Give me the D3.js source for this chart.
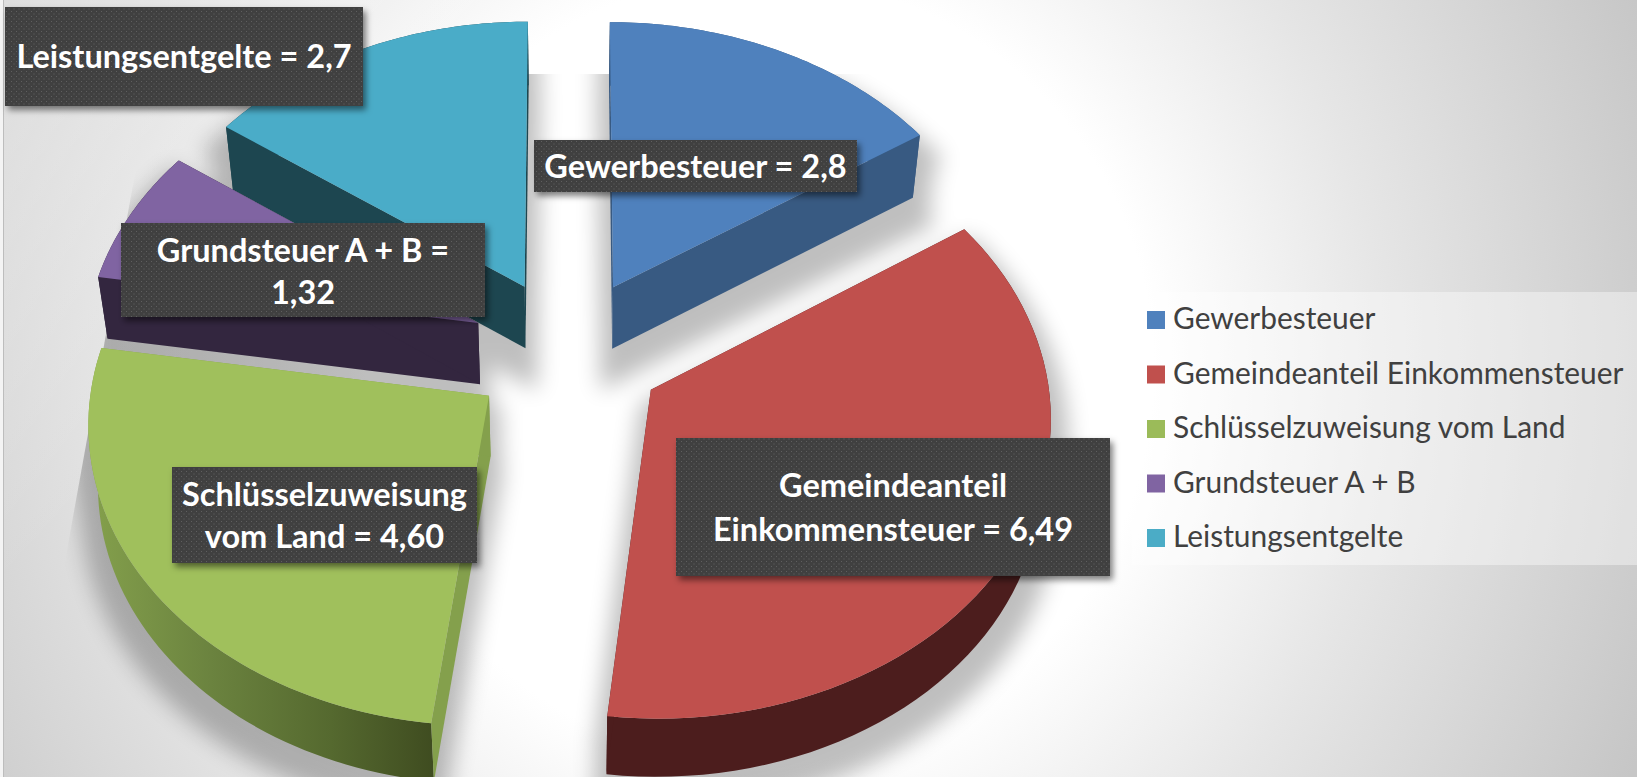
<!DOCTYPE html>
<html><head><meta charset="utf-8">
<script src="https://cdn.jsdelivr.net/npm/d3@7"></script>
<style>html,body{margin:0;padding:0;background:#fff;overflow:hidden}svg{display:block}</style>
</head><body>
<svg id="c" width="1637" height="777"></svg>
<script>
const categories = ["Gewerbesteuer","Gemeindeanteil Einkommensteuer","Schlüsselzuweisung vom Land","Grundsteuer A + B","Leistungsentgelte"];
const values = [2.8,6.49,4.60,1.32,2.7];
const labelLines = [
  ["Gewerbesteuer = 2,8"],
  ["Gemeindeanteil","Einkommensteuer = 6,49"],
  ["Schlüsselzuweisung","vom Land = 4,60"],
  ["Grundsteuer A + B =","1,32"],
  ["Leistungsentgelte = 2,7"]
];
const topColors = ["#4f81bd","#c0504d","#a0c05c","#8064a2","#4aacc8"];
const legendColors = ["#4f81bd","#c0504d","#9bbb59","#8064a2","#4bacc6"];
const wallColors = ["#385a82","#4c1d1d","#84a04c","#33263f","#1d4650"];
const rimColors = ["#385a82","#4c1d1d","url(#greenRim)","#33263f","#1d4650"];

const W=1637,H=777, cx=569, cy=351, q=0.00027;
const rX=d3.scaleLinear().domain([-1,1]).range([-394,394]);
const rY=d3.scaleLinear().domain([-1,1]).range([-296,296]);
const eX=d3.scaleLinear().domain([-1,0,1]).range([-99,0,95]);
const eY=d3.scaleLinear().domain([-1,1]).range([-73.6,73.6]);
const svg=d3.select("#c");
const defs=svg.append("defs");

const bg=defs.append("radialGradient").attr("id","bg").attr("gradientUnits","userSpaceOnUse")
  .attr("cx",760).attr("cy",370).attr("r",960);
[[0,"#ffffff"],[.41,"#ffffff"],[.65,"#e6e6e6"],[1,"#c6c6c6"]].forEach(s=>bg.append("stop").attr("offset",s[0]).attr("stop-color",s[1]));
const tl=defs.append("linearGradient").attr("id","tl").attr("gradientUnits","userSpaceOnUse")
  .attr("x1",0).attr("y1",0).attr("x2",300).attr("y2",300);
tl.append("stop").attr("offset",0).attr("stop-color","#fff").attr("stop-opacity",.3);
tl.append("stop").attr("offset",1).attr("stop-color","#fff").attr("stop-opacity",0);
const gr=defs.append("linearGradient").attr("id","greenRim").attr("gradientUnits","userSpaceOnUse")
  .attr("x1",90).attr("x2",434).attr("y1",0).attr("y2",0);
[[0,"#84a04c"],[.35,"#6b833f"],[.7,"#55692f"],[1,"#3f4c20"]].forEach(s=>gr.append("stop").attr("offset",s[0]).attr("stop-color",s[1]));
defs.append("filter").attr("id","blur").attr("x","-30%").attr("y","-30%").attr("width","160%").attr("height","160%")
  .append("feGaussianBlur").attr("stdDeviation",11);
const ds=defs.append("filter").attr("id","ls").attr("x","-10%").attr("y","-20%").attr("width","120%").attr("height","150%");
ds.append("feDropShadow").attr("dx",3).attr("dy",4).attr("stdDeviation",3).attr("flood-color","#000").attr("flood-opacity",.5);
const pat=defs.append("pattern").attr("id","dots").attr("patternUnits","userSpaceOnUse").attr("width",5).attr("height",5);
pat.append("rect").attr("width",5).attr("height",5).attr("fill","#404040");
pat.append("rect").attr("x",1).attr("y",1).attr("width",1).attr("height",1).attr("fill","#5e5e5e");
pat.append("rect").attr("x",3.5).attr("y",3.5).attr("width",1).attr("height",1).attr("fill","#5e5e5e");
defs.append("clipPath").attr("id","shClip").append("polygon").attr("points","153,74 1637,74 1637,777 26,777");

svg.append("rect").attr("width",W).attr("height",H).attr("fill","url(#bg)");
svg.append("rect").attr("width",700).attr("height",700).attr("fill","url(#tl)");
svg.append("rect").attr("width",3).attr("height",H).attr("fill","#f4f4f4");
svg.append("rect").attr("x",3).attr("width",1).attr("height",H).attr("fill","#bdbdbd");

const slices=d3.pie().sort(null).value(d=>d).startAngle(0).endAngle(2*Math.PI)(values);
const line=d3.line();
function projTop(X,Y){const w=1-q*Y;return [cx+X/w,cy+Y/w];}
function projBot(p){return [cx+(p[0]-cx)*0.98,p[1]+61-(p[1]-cy)*0.0078];}
function geom(s){
  const m=(s.startAngle+s.endAngle)/2, ex=eX(Math.sin(m)), ey=eY(-Math.cos(m));
  const apex=projTop(ex,ey);
  const arc=d3.range(0,61).map(i=>{const a=s.startAngle+(s.endAngle-s.startAngle)*i/60;
    return projTop(ex+rX(Math.sin(a)),ey+rY(-Math.cos(a)));});
  return {apex,arc,top:[apex,...arc],apexB:projBot(apex),arcB:arc.map(projBot)};
}
const geoms=slices.map(geom);
const order=[4,0,3,1,2];

const sh=svg.append("g").attr("clip-path","url(#shClip)").append("g").attr("filter","url(#blur)").attr("opacity",.25);
order.forEach(i=>{const g=geoms[i];
  const off=p=>[p[0]+(p[0]-cx)*0.01,p[1]+22];
  sh.append("path").attr("d",line(d3.polygonHull([...g.top,g.apexB,...g.arcB].map(off)))+"Z").attr("fill","#000").attr("stroke","#000").attr("stroke-width",24);
  sh.append("path").attr("d",line(g.top.map(off))+"Z").attr("fill","#000").attr("stroke","#000").attr("stroke-width",24);
  sh.append("path").attr("d",line([g.apexB,...g.arcB].map(off))+"Z").attr("fill","#000").attr("stroke","#000").attr("stroke-width",24);
});

const pieG=svg.append("g");
order.forEach(i=>{const g=geoms[i], sl=pieG.append("g").attr("class","slice");
  const n=g.arc.length-1;
  sl.append("path").attr("d",line([...g.arc,...g.arcB.slice().reverse()])+"Z").attr("fill",rimColors[i]);
  sl.append("path").attr("d",line([g.apex,g.arc[0],g.arcB[0],g.apexB])+"Z").attr("fill",wallColors[i]);
  sl.append("path").attr("d",line([g.apex,g.arc[n],g.arcB[n],g.apexB])+"Z").attr("fill",wallColors[i]);
  sl.append("path").attr("d",line(g.top)+"Z").attr("fill",topColors[i]);
});

// data labels
const labelBoxes=[
  {x:534,y:140,w:323,h:52,b:[178]},
  {x:676,y:438,w:434,h:138,b:[497,541]},
  {x:172,y:467,w:305,h:96,b:[506,548]},
  {x:121,y:223,w:364,h:94,b:[262,304]},
  {x:5,y:7,w:358,h:99,b:[68]}
];
const lg=svg.append("g");
labelBoxes.forEach((b,i)=>{
  lg.append("rect").attr("x",b.x).attr("y",b.y).attr("width",b.w).attr("height",b.h).attr("fill","url(#dots)").attr("filter","url(#ls)");
  labelLines[i].forEach((t,j)=>lg.append("text").attr("x",b.x+b.w/2).attr("y",b.b[j]).attr("text-anchor","middle")
    .attr("font-family","Lato").attr("font-weight",700).attr("font-size",32.5).attr("fill","#fff").text(t));
});

// legend
const legendY=d3.scalePoint().domain(categories).range([329,547]);
svg.append("rect").attr("x",1132).attr("y",292).attr("width",505).attr("height",273).attr("fill","#fff").attr("fill-opacity",.4);
const leg=svg.append("g").selectAll("g").data(categories).join("g");
leg.append("rect").attr("x",1147).attr("y",d=>legendY(d)-18).attr("width",18).attr("height",18).attr("fill",(d,i)=>legendColors[i]);
leg.append("text").attr("x",1173).attr("y",d=>legendY(d)).attr("font-family","Lato").attr("font-size",29.9).attr("fill","#404040").text(d=>d);
</script>
</body></html>
